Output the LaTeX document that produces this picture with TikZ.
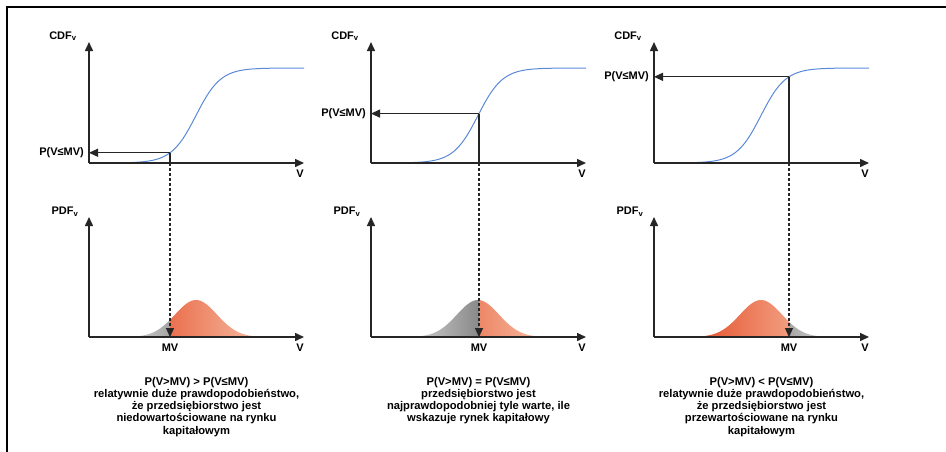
\documentclass[tikz,border=0pt]{standalone}
\usepackage{fontspec}
\setmainfont{Liberation Sans}
\usetikzlibrary{arrows.meta}
\definecolor{axisgray}{HTML}{262626}
\definecolor{curveblue}{HTML}{5B8AD8}
\definecolor{orangeA}{HTML}{E5502A}
\definecolor{orangeB}{HTML}{F6BCA3}
\definecolor{grayA}{HTML}{D0D0D0}
\definecolor{grayB}{HTML}{8A8A8A}
\begin{document}
\begin{tikzpicture}[x=1pt,y=-1pt,
  tip/.style={-{Triangle[length=9pt,width=8pt]}},
  axis/.style={draw=axisgray, line width=1.5pt, tip},
  guide/.style={draw=axisgray, line width=1.2pt},
  dropline/.style={draw=axisgray, line width=1.1pt, dash pattern=on 3pt off 2pt, tip},
  cdfcurve/.style={draw=curveblue, line width=1pt},
  greyshade/.style={left color=grayA, right color=grayA, middle color=grayB},
  orangeshade/.style={left color=orangeA, right color=orangeB},
  lbl/.style={inner sep=0pt, font=\fontsize{11}{13}\selectfont\bfseries},
  caption/.style={inner sep=0pt, align=center, anchor=north,
    font=\fontsize{11.2}{12.2}\selectfont\bfseries},
]
\useasboundingbox (0,0) rectangle (946,451);
% frame along the top and left edges
\draw[line width=2pt] (7,452) -- (7,7) -- (947,7);

\foreach \ox/\mv/\i/\lowfill/\highfill/\txt in {
  89/81/1/greyshade/orangeshade/{P(V>MV) > P(V≤MV)\\relatywnie duże prawdopodobieństwo,\\że przedsiębiorstwo jest\\niedowartościowane na rynku\\kapitałowym},
  371/108/2/greyshade/orangeshade/{P(V>MV) = P(V≤MV)\\przedsiębiorstwo jest\\najprawdopodobniej tyle warte, ile\\wskazuje rynek kapitałowy},
  654/135/3/orangeshade/greyshade/{P(V>MV) < P(V≤MV)\\relatywnie duże prawdopodobieństwo,\\że przedsiębiorstwo jest\\przewartościowane na rynku\\kapitałowym}}{
  \pgfmathsetmacro\cv{163-95/(1+exp(-(\mv-107)/12.3))}
  % axis end points
  \coordinate (c0\i) at (\ox,163);
  \coordinate (ctop\i) at (\ox,42);
  \coordinate (cend\i) at (\ox+215,163);
  \coordinate (p0\i) at (\ox,337);
  \coordinate (ptop\i) at (\ox,217);
  \coordinate (pend\i) at (\ox+215,337);
  % market value guides
  \coordinate (hit\i) at (\ox+\mv,\cv);
  \coordinate (pleft\i) at (\ox,\cv);
  \coordinate (cfoot\i) at (\ox+\mv,163);
  \coordinate (pfoot\i) at (\ox+\mv,337);

  % density, split at MV
  \begin{scope}
    \clip (\ox+30,337) -- plot[domain=30:\mv,samples=60]
      ({\ox+\x},{337-37*exp(-((\x-107)^2)/882)}) -- (\ox+\mv,337) -- cycle;
    \shade[\lowfill] (\ox+40,295) rectangle (\ox+174,338);
  \end{scope}
  \begin{scope}
    \clip (\ox+\mv,337) -- plot[domain=\mv:185,samples=60]
      ({\ox+\x},{337-37*exp(-((\x-107)^2)/882)}) -- (\ox+185,337) -- cycle;
    \shade[\highfill] (\ox+40,295) rectangle (\ox+174,338);
  \end{scope}

  % distribution function
  \draw[cdfcurve] plot[domain=35:215,samples=120]
    ({\ox+\x},{163-95/(1+exp(-(\x-107)/12.3))});

  \draw[guide, tip] (hit\i) -- (pleft\i);
  \draw[guide] (hit\i) -- (cfoot\i);
  \draw[dropline] (cfoot\i) -- (pfoot\i);

  \draw[axis] (c0\i) -- (ctop\i);
  \draw[axis] (c0\i) -- (cend\i);
  \draw[axis] (p0\i) -- (ptop\i);
  \draw[axis] (p0\i) -- (pend\i);

  \node[lbl] (cdflbl\i) at (\ox-26,36) {CDF\textsubscript{v}};
  \node[lbl] (pdflbl\i) at (\ox-24,212) {PDF\textsubscript{v}};
  \node[lbl, anchor=east] (plbl\i) at (\ox-5,\cv) {P(V≤MV)};
  \node[lbl] (cv\i) at (\ox+211,174) {V};
  \node[lbl] (pv\i) at (\ox+211,348) {V};
  \node[lbl] (mv\i) at (\ox+\mv,348) {MV};
  \node[caption] (cap\i) at (\ox+107.5,377) {\txt};
}
\end{tikzpicture}
\end{document}
